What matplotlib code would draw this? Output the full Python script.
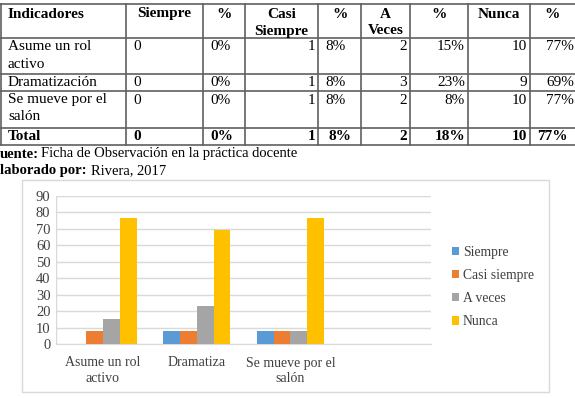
import numpy as np
import matplotlib
matplotlib.use("Agg")
import matplotlib.pyplot as plt
from matplotlib.patches import Rectangle
from matplotlib.lines import Line2D

# table data
header = ["Indicadores", "Siempre", "%", "Casi\nSiempre", "%", "A\nVeces", "%", "Nunca", "%"]
indicadores = ["Asume un rol\nactivo", "Dramatización", "Se mueve por el\nsalón"]
siempre_n = ["0", "0", "0"]
siempre_p = ["0%", "0%", "0%"]
casi_n = ["1", "1", "1"]
casi_p = ["8%", "8%", "8%"]
aveces_n = ["2", "3", "2"]
aveces_p = ["15%", "23%", "8%"]
nunca_n = ["10", "9", "10"]
nunca_p = ["77%", "69%", "77%"]
total_row = ["Total", "0", "0%", "1", "8%", "2", "18%", "10", "77%"]

# chart data
chart_cats = ["Asume un rol\nactivo", "Dramatiza", "Se mueve por el\nsalón", ""]
series_names = ["Siempre", "Casi siempre", "A veces", "Nunca"]
s_siempre = [0, 7.7, 7.7, 0]
s_casi = [7.7, 7.7, 7.7, 0]
s_aveces = [15.4, 23.1, 7.7, 0]
s_nunca = [76.9, 69.2, 76.9, 0]
colors = ["#5B9BD5", "#ED7D31", "#A5A5A5", "#FFC000"]

W, H = 575, 398
fig = plt.figure(figsize=(W / 100, H / 100), dpi=100)
fig.patch.set_facecolor("white")
serif = "Liberation Serif"


def fx(x):
    return x / W


def fy(y):
    return 1 - y / H


def cell_text(x, y, txt, ha, bold=False, size=11):
    # one text per line, 17 px apart like the scanned table
    for j, line in enumerate(txt.split("\n")):
        fig.text(fx(x), fy(y + 17 * j), line, ha=ha, va="center", fontsize=size,
                 fontweight="bold" if bold else "normal", family=serif)


# table grid
col_x = [1, 126, 203, 245, 318, 361, 410, 468, 530, 576]
row_y = [4, 38, 74, 91, 128, 145]
for y in row_y:
    fig.add_artist(Line2D([0, 1], [fy(y), fy(y)], color="#606060", lw=1.2))
for x in col_x:
    fig.add_artist(Line2D([fx(x), fx(x)], [fy(row_y[0]), fy(row_y[-1])], color="#606060", lw=1.2))

# header
for i, txt in enumerate(header):
    if i == 0:
        cell_text(col_x[i] + 7, 14, txt, "left", bold=True)
    else:
        right = col_x[i + 1] if i < 8 else 575
        cell_text((col_x[i] + right) / 2, 14, txt, "center", bold=True)

# body rows
cols = [indicadores, siempre_n, siempre_p, casi_n, casi_p, aveces_n, aveces_p, nunca_n, nunca_p]
body_align = ["left", "left", "left", "right", "left", "right", "right", "right", "right"]
for r in range(3):
    yc = row_y[r + 1] + 9
    for i, col in enumerate(cols):
        al = body_align[i]
        if al == "left":
            x = col_x[i] + 7
        else:
            x = col_x[i + 1] - 3 if i < 8 else 574
        cell_text(x, yc, col[r], al)

# total row
tot_align = ["left", "left", "left", "right", "center", "right", "right", "right", "left"]
for i, txt in enumerate(total_row):
    al = tot_align[i]
    if al == "left":
        x = col_x[i] + 7
    elif al == "center":
        x = (col_x[i] + col_x[i + 1]) / 2
    else:
        x = col_x[i + 1] - 3
    cell_text(x, row_y[4] + 9, txt, al, bold=True)

# source lines (left edge of the page scan is cut)
fig.text(fx(0), fy(154), "uente:", ha="left", va="center", fontsize=10.5,
         fontweight="bold", family=serif)
fig.text(fx(41), fy(154), "Ficha de Observación en la práctica docente", ha="left",
         va="center", fontsize=10.5, family=serif)
fig.text(fx(0), fy(171), "laborado por:", ha="left", va="center", fontsize=10.5,
         fontweight="bold", family=serif)
fig.text(fx(91), fy(171), "Rivera, 2017", ha="left", va="center", fontsize=10.5, family=serif)

# chart frame
fig.add_artist(Rectangle((fx(22), fy(392)), fx(549 - 22), (392 - 180) / H,
                         fill=False, edgecolor="#D9D9D9", lw=1.0))

ax = fig.add_axes([fx(56), fy(344), fx(431 - 56), (344 - 196) / H])
x = np.arange(len(chart_cats))
bw = 0.18
series = [s_siempre, s_casi, s_aveces, s_nunca]
for k, (vals, name, c) in enumerate(zip(series, series_names, colors)):
    ax.bar(x + (k - 1.5) * bw, vals, bw, color=c, label=name, zorder=3)

ax.set_xlim(-0.5, len(chart_cats) - 0.5)
ax.set_ylim(0, 90)
ax.set_yticks(np.arange(0, 91, 10))
ax.grid(axis="y", color="#D9D9D9", lw=1.0, zorder=0)
for s in ["top", "right", "left"]:
    ax.spines[s].set_visible(False)
ax.spines["bottom"].set_color("#D9D9D9")
ax.set_xticks(x)
ax.set_xticklabels(chart_cats, family=serif, fontsize=10, color="#404040", linespacing=1.3)
ax.tick_params(axis="both", length=0)
ax.tick_params(axis="x", pad=9)
ax.tick_params(axis="y", pad=4)
for lab in ax.get_yticklabels():
    lab.set_family(serif)
    lab.set_fontsize(10.5)
    lab.set_color("#404040")
ax.axvline(-0.5, color="#D9D9D9", lw=1.0, zorder=1)

leg = ax.legend(loc="center left", bbox_to_anchor=(fx(452), fy(287)), bbox_transform=fig.transFigure,
                frameon=False, borderpad=0, borderaxespad=0, handlelength=0.55, handleheight=0.55,
                handletextpad=0.25, labelspacing=0.75, prop={"family": serif, "size": 9.8})
for t in leg.get_texts():
    t.set_color("#404040")

fig.savefig("out.png", dpi=100)
